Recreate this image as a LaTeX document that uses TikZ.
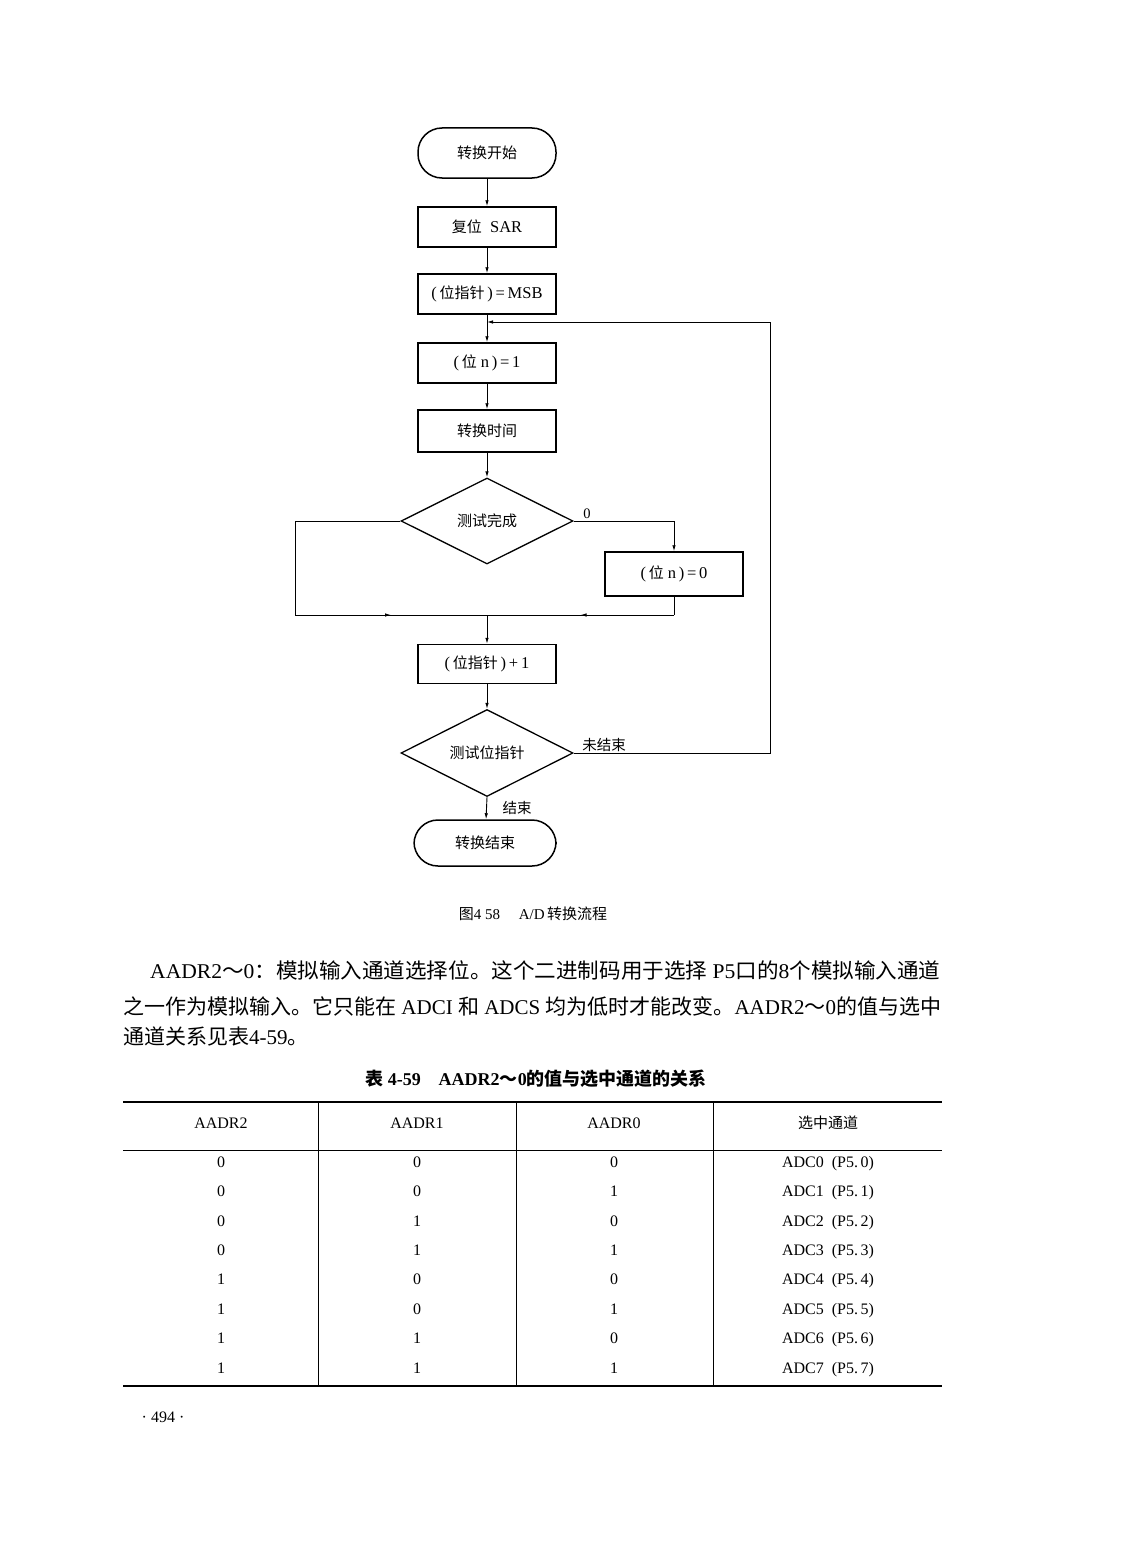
\documentclass[tikz,border=0pt]{standalone}
\usepackage{fontspec}
\setmainfont{Liberation Serif}
\newfontfamily\cjk{Noto Sans CJK SC}
\usetikzlibrary{shapes.geometric,arrows.meta,decorations.markings}
\newcommand\zh[1]{{\cjk #1}}
\newcommand\myfs[1]{\fontsize{#1}{#1}\selectfont}
\newcommand\bz[1]{{\cjk\myfs{15}#1}}
\begin{document}
\begin{tikzpicture}[x=1pt,y=-1pt,
  box/.style={draw, line width=1.5pt, minimum width=138pt, minimum height=40pt, inner sep=0pt, font=\myfs{16.5}},
  term/.style={box, rounded corners=24pt, minimum height=50pt},
  dec/.style={draw, diamond, aspect=2, line width=1.3pt, minimum width=172pt, minimum height=86pt, inner sep=0pt, font=\myfs{15}},
  conn/.style={line width=0.9pt},
  arr/.style={conn, -{Latex[length=6pt,width=3.5pt]}},
  midarr/.style={conn, postaction={decorate}, decoration={markings, mark=at position 0.5 with {\arrow{Latex[length=6pt,width=3.5pt]}}}},
  lab/.style={font=\myfs{14.5}, inner sep=1pt},
  cell/.style={font=\myfs{16}, inner sep=0pt, text height=11pt, text depth=3pt}]
\fill[white] (0,0) rectangle (1122,1568);
\useasboundingbox (0,0) rectangle (1122,1568);

% flowchart nodes
\node[term] (start) at (487,153) {\bz{转换开始}};
\node[box] (sar) at (487,227) {\bz{复位}\ \ SAR};
\node[box] (msb) at (487,294) {(\,\bz{位指针}\,)\,=\,MSB};
\node[box] (b1) at (487,363) {(\,\bz{位}\ n\,)\,=\,1};
\node[box, minimum height=42pt] (time) at (487,431) {\bz{转换时间}};
\node[dec] (d1) at (487,521) {\zh{测试完成}};
\node[box, minimum height=44pt] (b0) at (674,574) {(\,\bz{位}\ n\,)\,=\,0};
\node[box, minimum height=39pt] (inc) at (487,664) {(\,\bz{位指针}\,)\,+\,1};
\node[dec, minimum height=87pt] (d2) at (487,753) {\zh{测试位指针}};
\node[term, minimum width=142pt, minimum height=46pt] (fin) at (485,843) {\bz{转换结束}};

\coordinate (j1) at (487,322);
\coordinate (j2) at (487,615);
\coordinate (lc1) at (295,521);
\coordinate (lc2) at (295,615);
\coordinate (rb) at (674,615);
\coordinate (rc1) at (770,753);
\coordinate (rc2) at (770,322);

\draw[arr] (start) -- (sar);
\draw[arr] (sar) -- (msb);
\draw[conn] (msb) -- (j1);
\draw[arr] (j1) -- (b1);
\draw[arr] (b1) -- (time);
\draw[arr] (time) -- (d1);
\draw[conn] (d1.west) -- (lc1) -- (lc2);
\draw[midarr] (lc2) -- (j2);
\draw[arr] (d1.east) -| (b0.north);
\draw[conn] (b0.south) -- (rb);
\draw[midarr] (rb) -- (j2);
\draw[arr] (j2) -- (inc);
\draw[arr] (inc) -- (d2);
\draw[conn] (d2.east) -- (rc1) -- (rc2);
\draw[arr] (rc2) -- (j1);
\draw[arr] (d2.south) -- (fin);

\node[lab] (l0) at (587,514) {0};
\node[lab] (lne) at (604,745) {\zh{未结束}};
\node[lab] (lend) at (517,808) {\zh{结束}};

% caption
\node[font=\myfs{15}] (cap) at (533,914) {\zh{图}4 58\quad\ A/D\,\zh{转换流程}};

% paragraph
\node[anchor=west, inner sep=0pt, font=\myfs{21}] (p1) at (150,970) {\scalebox{1.027}[1]{AADR2\zh{～}0\zh{：模拟输入通道选择位。这个二进制码用于选择} P5\zh{口的}8\zh{个模拟输入通道}}};
\node[anchor=west, inner sep=0pt, font=\myfs{21}] (p2) at (123,1006) {\zh{之一作为模拟输入。它只能在} ADCI \zh{和} ADCS \zh{均为低时才能改变。}AADR2\zh{～}0\zh{的值与选中}};
\node[anchor=west, inner sep=0pt, font=\myfs{21}] (p3) at (123,1036) {\zh{通道关系见表}4-59\zh{。}};

% table title
\node[font=\myfs{18}\bfseries] (tt) at (536,1079) {\zh{\bfseries 表} 4-59\quad AADR2\zh{\bfseries ～}0\zh{\bfseries 的值与选中通道的关系}};

% table
\draw[line width=1.6pt] (123,1102) -- (942,1102);
\draw[line width=0.8pt] (123,1150) -- (942,1150);
\draw[line width=1.6pt] (123,1386) -- (942,1386);
\foreach \x in {318,516,713} \draw[line width=0.7pt] (\x,1102) -- (\x,1386);

\node[cell] (h1) at (221,1124) {AADR2};
\node[cell] (h2) at (417,1124) {AADR1};
\node[cell] (h3) at (614,1124) {AADR0};
\node[cell, font=\myfs{15}] (h4) at (828,1124) {\zh{选中通道}};

\foreach \i/\a/\b/\c/\y in {0/0/0/0/1163,1/0/0/1/1192,2/0/1/0/1222,3/0/1/1/1251,4/1/0/0/1280,5/1/0/1/1310,6/1/1/0/1339,7/1/1/1/1369}{
  \node[cell] (ra\i) at (221,\y) {\a};
  \node[cell] (rb\i) at (417,\y) {\b};
  \node[cell] (rc\i) at (614,\y) {\c};
  \node[cell] (rd\i) at (828,\y) {ADC\i\ \ (P5.\,\i)};
}

\node[font=\myfs{16}] (pg) at (163,1417) {· 494 ·};
\end{tikzpicture}
\end{document}
